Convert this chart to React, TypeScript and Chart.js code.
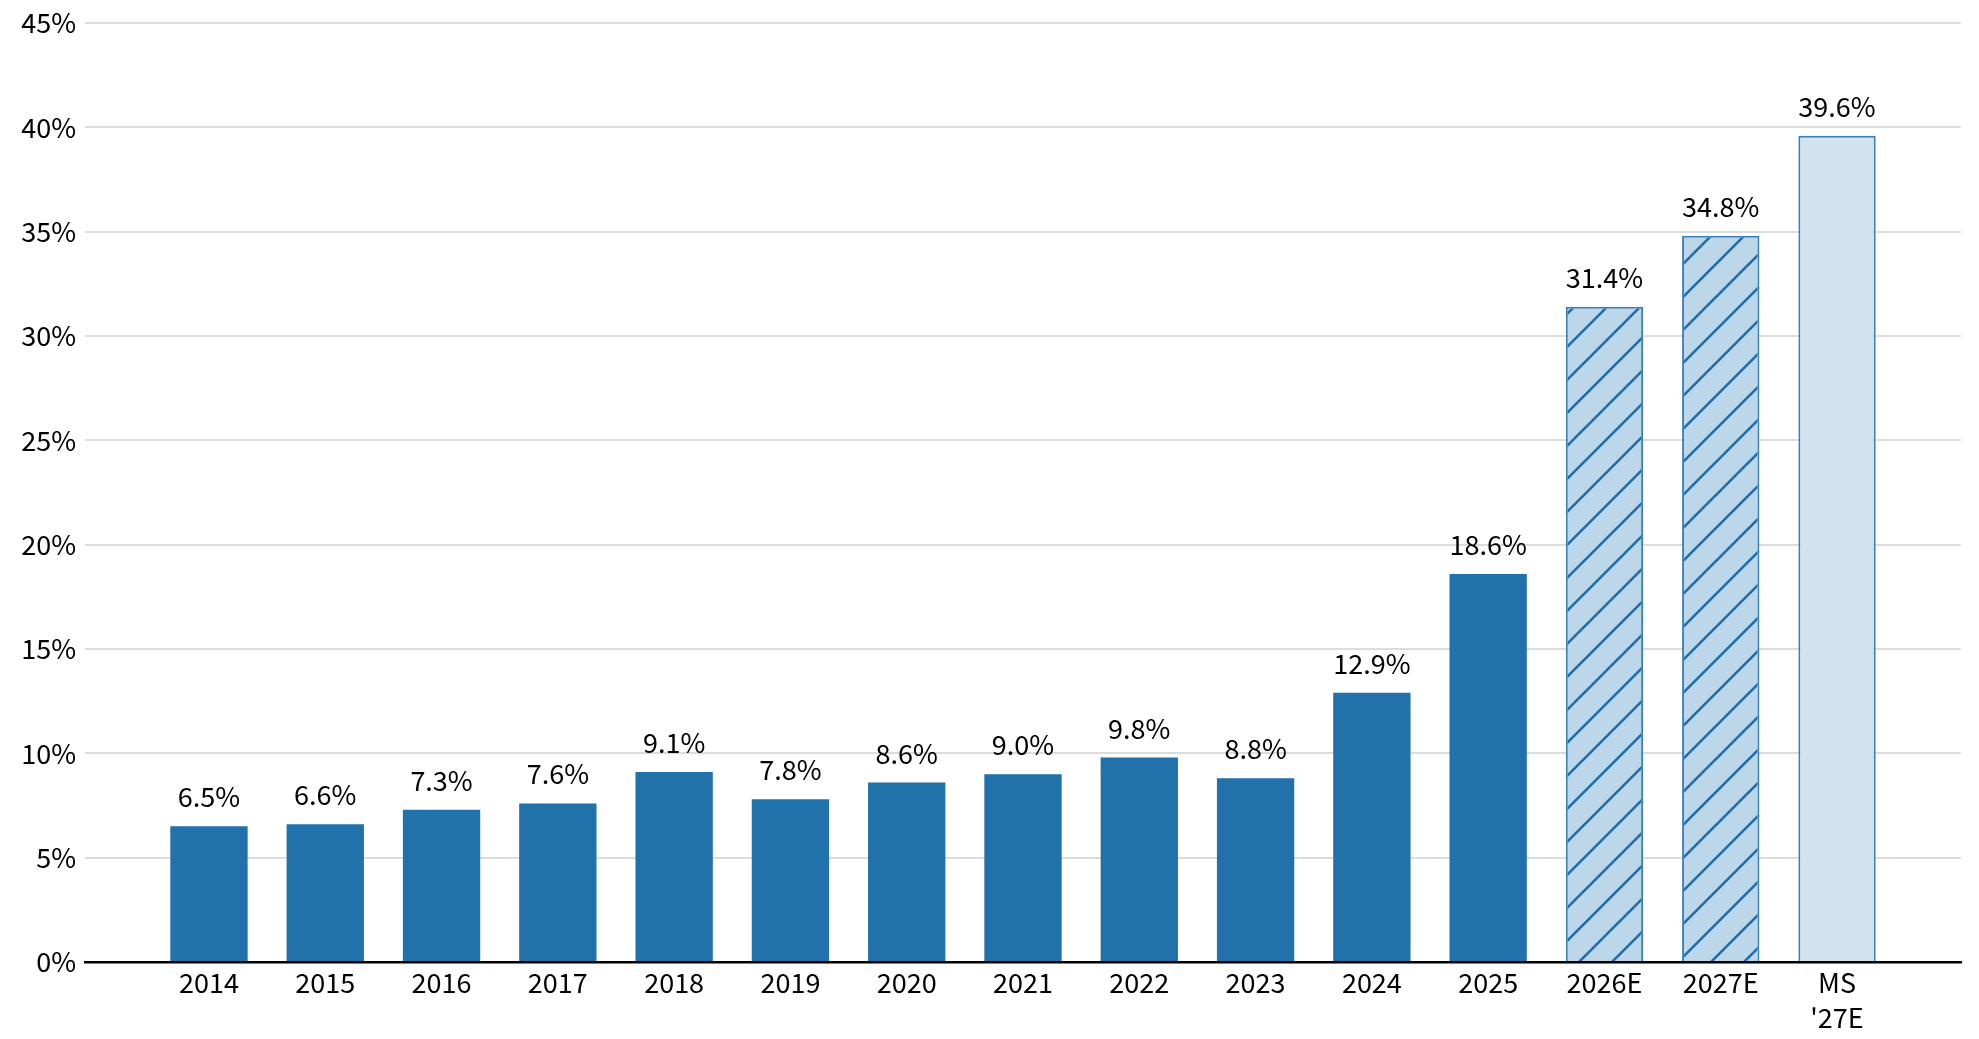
import React, { useEffect, useRef } from "react";
import Chart from "chart.js/auto";

const categories: (string | string[])[] = [
  "2014", "2015", "2016", "2017", "2018", "2019", "2020", "2021",
  "2022", "2023", "2024", "2025", "2026E", "2027E", ["MS", "'27E"],
];
const shares = [6.5, 6.6, 7.3, 7.6, 9.1, 7.8, 8.6, 9.0, 9.8, 8.8, 12.9, 18.6, 31.4, 34.8, 39.6];
// "actual" | "estimate" (hatched) | "ms" (plain light)
const kinds = [
  "actual", "actual", "actual", "actual", "actual", "actual", "actual", "actual",
  "actual", "actual", "actual", "actual", "estimate", "estimate", "ms",
];
const yTicks = [0, 5, 10, 15, 20, 25, 30, 35, 40, 45];

const FONT = "'Noto Sans CJK JP', 'Noto Sans', sans-serif";
const DARK = "#2171aa";
const EDGE = "#3a7fb7";
const HATCH_BG = "#bdd7ea";
const HATCH_LINE = "#226ca7";
const MS_BG = "#d0e3ef";

function makeHatch(): CanvasPattern | string {
  const s = 33;
  const c = document.createElement("canvas");
  c.width = s;
  c.height = s;
  const g = c.getContext("2d");
  if (!g) return HATCH_BG;
  g.fillStyle = HATCH_BG;
  g.fillRect(0, 0, s, s);
  g.strokeStyle = HATCH_LINE;
  g.lineWidth = 2.6;
  g.beginPath();
  g.moveTo(-3, 3);
  g.lineTo(3, -3);
  g.moveTo(-2, s + 2);
  g.lineTo(s + 2, -2);
  g.moveTo(s - 3, s + 3);
  g.lineTo(s + 3, s - 3);
  g.stroke();
  return g.createPattern(c, "repeat") || HATCH_BG;
}

const valueLabels = {
  id: "valueLabels",
  afterDatasetsDraw(chart: any) {
    const ctx = chart.ctx;
    const meta = chart.getDatasetMeta(0);
    ctx.save();
    ctx.font = `27px ${FONT}`;
    ctx.fillStyle = "#000";
    ctx.textAlign = "center";
    ctx.textBaseline = "alphabetic";
    meta.data.forEach((bar: any, i: number) => {
      ctx.fillText(shares[i].toFixed(1) + "%", bar.x, bar.y - 19);
    });
    ctx.restore();
  },
};

export default function App() {
  const canvasRef = useRef<HTMLCanvasElement | null>(null);

  useEffect(() => {
    if (!canvasRef.current) return;
    const hatch = makeHatch();
    const bg = kinds.map((k) => (k === "actual" ? DARK : k === "estimate" ? hatch : MS_BG));
    const border = kinds.map((k) => (k === "actual" ? DARK : EDGE));
    const bw = kinds.map((k) => (k === "actual" ? 0 : 2));

    const chart = new Chart(canvasRef.current, {
      type: "bar",
      data: {
        datasets: [
          {
            data: shares.map((v, i) => ({ x: i, y: v })),
            backgroundColor: bg as any,
            borderColor: border,
            borderWidth: bw,
            barPercentage: 0.665,
            categoryPercentage: 1,
          },
        ],
      },
      options: {
        animation: false,
        responsive: true,
        maintainAspectRatio: false,
        layout: { padding: { top: 23, right: 18, left: 0, bottom: 0 } },
        plugins: { legend: { display: false }, tooltip: { enabled: false } },
        scales: {
          x: {
            type: "linear",
            offset: false,
            min: -1.066,
            max: categories.length - 1 + 1.066,
            afterBuildTicks: (axis: any) => {
              axis.ticks = categories.map((_, i) => ({ value: i }));
            },
            afterFit: (axis: any) => {
              axis.height = 77;
            },
            grid: { display: false, drawTicks: false, offset: false },
            border: { display: true, color: "#000", width: 2.5 },
            ticks: {
              autoSkip: false,
              maxRotation: 0,
              padding: 3,
              color: "#000",
              font: { family: FONT, size: 27, lineHeight: 1.3 },
              callback: (v: any) => categories[Number(v)] as any,
            },
          },
          y: {
            min: 0,
            max: 45,
            afterBuildTicks: (axis: any) => {
              axis.ticks = yTicks.map((v) => ({ value: v }));
            },
            afterFit: (axis: any) => {
              axis.width = 85;
            },
            grid: { color: "#dcdcdc", lineWidth: 2, drawTicks: false },
            border: { display: false },
            ticks: {
              padding: 9,
              color: "#000",
              font: { family: FONT, size: 27, lineHeight: 0.8 },
              callback: (v: any) => v + "%",
            },
          },
        },
      },
      plugins: [valueLabels],
    });
    return () => chart.destroy();
  }, []);

  return (
    <div style={{ position: "absolute", left: 0, top: 0, width: 1979, height: 1039, background: "#fff" }}>
      <canvas ref={canvasRef} />
    </div>
  );
}
